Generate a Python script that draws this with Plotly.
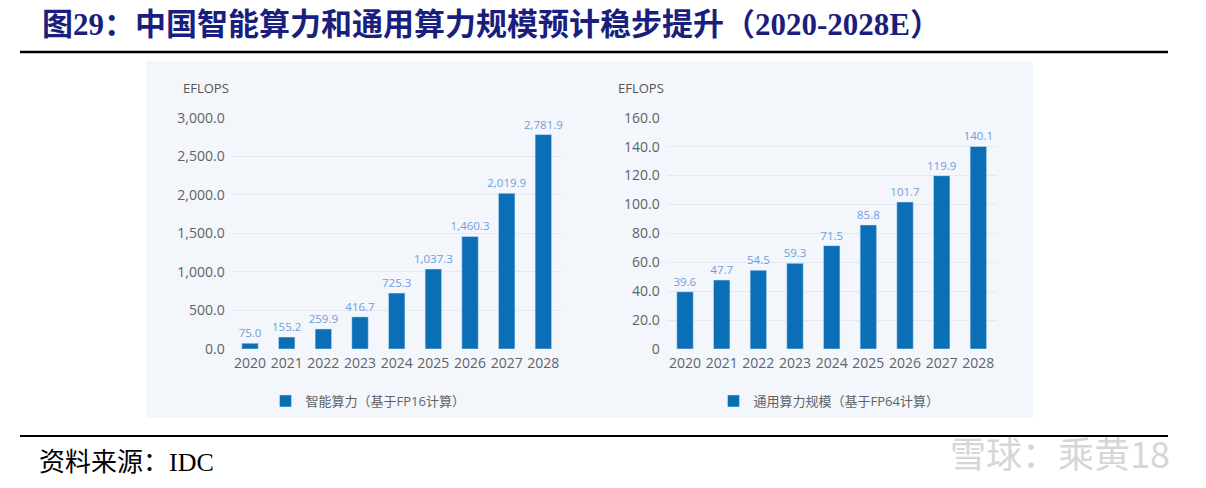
import plotly.graph_objects as go

W, H = 1206, 488

years = ["2020", "2021", "2022", "2023", "2024", "2025", "2026", "2027", "2028"]
ai_compute = [75.0, 155.2, 259.9, 416.7, 725.3, 1037.3, 1460.3, 2019.9, 2781.9]
general_compute = [39.6, 47.7, 54.5, 59.3, 71.5, 85.8, 101.7, 119.9, 140.1]

left_ticks = [0, 500, 1000, 1500, 2000, 2500, 3000]
left_ticktext = ["0.0", "500.0", "1,000.0", "1,500.0", "2,000.0", "2,500.0", "3,000.0"]
right_ticks = [0, 20, 40, 60, 80, 100, 120, 140, 160]
right_ticktext = ["0", "20.0", "40.0", "60.0", "80.0", "100.0", "120.0", "140.0", "160.0"]

title_text = "图29：中国智能算力和通用算力规模预计稳步提升（2020-2028E）"
left_name = "智能算力（基于FP16计算）"
right_name = "通用算力规模（基于FP64计算）"
unit = "EFLOPS"
source_text = "资料来源：IDC"
watermark = "雪球：乘黄18"


def px(x):
    return x / W


def py(y):
    return 1 - y / H


BAR = "#0b6fb8"
LABEL = "#6f9ee0"
TICK = "#5f6368"
GRID = "#e4e8ef"
SANS = "Open Sans, Noto Sans CJK SC, sans-serif"

fig = go.Figure()

fig.add_trace(go.Bar(
    x=years, y=ai_compute, name=left_name, marker_color=BAR,
    text=ai_compute, texttemplate="%{y:,.1f}", textposition="outside", constraintext="none",
    textfont=dict(color=LABEL, size=11.5, family=SANS), cliponaxis=False,
    xaxis="x", yaxis="y", legend="legend",
))
fig.add_trace(go.Bar(
    x=years, y=general_compute, name=right_name, marker_color=BAR,
    text=general_compute, texttemplate="%{y:.1f}", textposition="outside", constraintext="none",
    textfont=dict(color=LABEL, size=11.5, family=SANS), cliponaxis=False,
    xaxis="x2", yaxis="y2", legend="legend2",
))

plot_top, plot_bot = 117.7, 349

tick_font = dict(size=14, color=TICK, family=SANS)
xaxis_common = dict(showline=False, ticks="", tickfont=tick_font, showgrid=False,
                    ticklabelstandoff=4)
yaxis_common = dict(showline=False, ticks="", tickfont=tick_font, showgrid=True,
                    gridcolor=GRID, gridwidth=1, zeroline=False, ticklabelstandoff=6)

fig.update_layout(
    width=W, height=H,
    margin=dict(l=0, r=0, t=0, b=0, pad=0, autoexpand=False),
    paper_bgcolor="white",
    plot_bgcolor="rgba(0,0,0,0)",
    bargap=0.55,
    showlegend=True,
    xaxis=dict(domain=[px(231.7), px(561.7)], anchor="y", **xaxis_common),
    yaxis=dict(domain=[py(plot_bot), py(plot_top)], anchor="x", range=[0, 3000],
               tickvals=left_ticks, ticktext=left_ticktext, **yaxis_common),
    xaxis2=dict(domain=[px(666.7), px(996.7)], anchor="y2", **xaxis_common),
    yaxis2=dict(domain=[py(plot_bot), py(plot_top)], anchor="x2", range=[0, 160],
                tickvals=right_ticks, ticktext=right_ticktext, **yaxis_common),
    legend=dict(x=px(368), y=py(401), xanchor="center", yanchor="middle",
                bgcolor="rgba(0,0,0,0)", font=dict(size=13, color=TICK, family=SANS),
                itemwidth=30),
    legend2=dict(x=px(829), y=py(401), xanchor="center", yanchor="middle",
                 bgcolor="rgba(0,0,0,0)", font=dict(size=13, color=TICK, family=SANS),
                 itemwidth=30),
)

shapes = [
    dict(type="rect", xref="paper", yref="paper", x0=px(146), x1=px(1033), y0=py(418), y1=py(61),
         fillcolor="#f3f6fb", line=dict(width=0), layer="below"),
    dict(type="line", xref="paper", yref="paper", x0=px(20), x1=px(1168), y0=py(52), y1=py(52),
         line=dict(color="black", width=2.5)),
    dict(type="line", xref="paper", yref="paper", x0=px(20), x1=px(1168), y0=py(436), y1=py(436),
         line=dict(color="black", width=2)),
]
fig.update_layout(shapes=shapes)

annotations = [
    dict(text="<b>" + title_text + "</b>", x=px(40), y=py(24), xref="paper", yref="paper",
         xanchor="left", yanchor="middle", showarrow=False,
         font=dict(size=31, color="#1a1f7e", family="Liberation Serif, Noto Sans CJK SC, serif")),
    dict(text=unit, x=px(206), y=py(88), xref="paper", yref="paper", xanchor="center",
         yanchor="middle", showarrow=False, font=dict(size=13, color="#555", family=SANS)),
    dict(text=unit, x=px(641), y=py(88), xref="paper", yref="paper", xanchor="center",
         yanchor="middle", showarrow=False, font=dict(size=13, color="#555", family=SANS)),
    dict(text=source_text, x=px(37), y=py(462), xref="paper", yref="paper", xanchor="left",
         yanchor="middle", showarrow=False,
         font=dict(size=26, color="black", family="Liberation Serif, Noto Sans CJK SC, serif")),
    dict(text=watermark, x=px(1172), y=py(452), xref="paper", yref="paper", xanchor="right",
         yanchor="middle", showarrow=False,
         font=dict(size=36, color="#d6d6d6", family="Noto Sans CJK SC, sans-serif")),
]
fig.update_layout(annotations=annotations)

fig.write_html(
    "out.html",
    config={"displayModeBar": False},
    post_script=(
        "document.documentElement.style.margin='0';"
        "document.body.style.margin='0';"
        "document.body.style.overflow='hidden';"
        "var gd=document.getElementById('{plot_id}');"
        "gd.style.position='fixed';gd.style.top='0';gd.style.left='0';"
    ),
)
